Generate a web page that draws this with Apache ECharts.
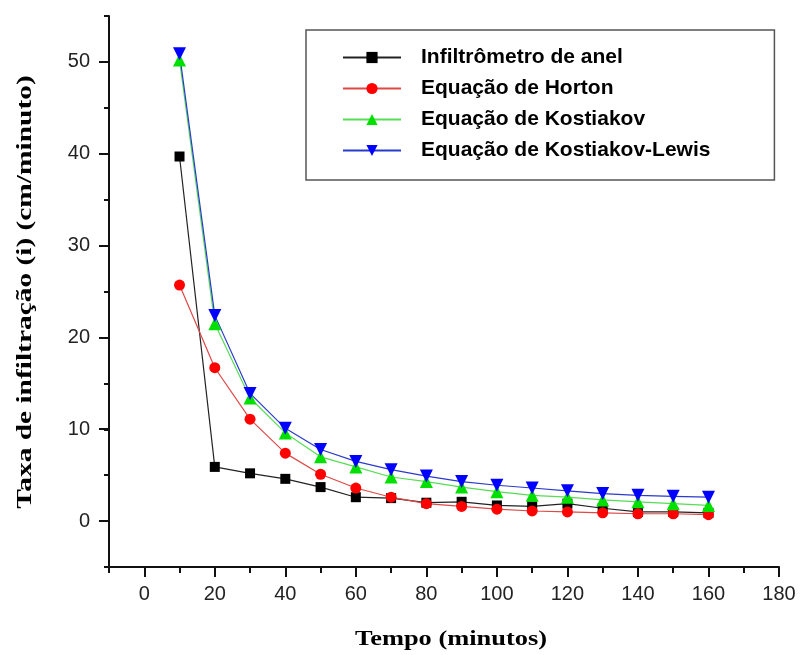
<!DOCTYPE html>
<html>
<head>
<meta charset="utf-8">
<script src="https://cdn.jsdelivr.net/npm/echarts@6/dist/echarts.min.js"></script>
<style>
  html, body { margin: 0; padding: 0; background: #fff; }
  #chart { width: 800px; height: 655px; }
</style>
</head>
<body>
<div id="chart"></div>
<script>
// Infiltration rate over time: measured (ring infiltrometer) and three fitted models
const tempo = [10, 20, 30, 40, 50, 60, 70, 80, 90, 100, 110, 120, 130, 140, 150, 160];

const infiltrometro = [39.7, 5.9, 5.2, 4.6, 3.7, 2.6, 2.5, 2.0, 2.1, 1.7, 1.6, 1.9, 1.4, 1.0, 1.0, 0.9];
const horton        = [25.7, 16.7, 11.1, 7.4, 5.1, 3.6, 2.6, 1.9, 1.6, 1.3, 1.1, 1.0, 0.9, 0.8, 0.8, 0.7];
const kostiakov     = [50.2, 21.5, 13.4, 9.6, 7.0, 5.9, 4.8, 4.3, 3.7, 3.2, 2.8, 2.6, 2.3, 2.1, 1.9, 1.7];
const kostiakovLewis = [50.9, 22.4, 13.9, 10.1, 7.8, 6.5, 5.6, 4.9, 4.3, 3.9, 3.6, 3.3, 3.0, 2.8, 2.7, 2.6];

const seriesNames = [
  'Infiltrômetro de anel',
  'Equação de Horton',
  'Equação de Kostiakov',
  'Equação de Kostiakov-Lewis'
];

// axis extents and tick steps
const xRange = [-10, 180];
const yRange = [-5, 55];
const xMajor = { min: 0, max: 180, step: 20 };
const yMajor = { min: 0, max: 50, step: 10 };
const xMinorStep = 10;
const yMinorStep = 5;

const xName = 'Tempo (minutos)';
const yName = 'Taxa de infiltração (i) (cm/minuto)';

const pairs = ys => tempo.map((t, i) => [t, ys[i]]);

const sansFont = '"Liberation Sans", Arial, sans-serif';
const serifFont = '"Liberation Serif", "Times New Roman", serif';

const W = 800, H = 655;
const plot = { left: 109, right: 21, top: 16, bottom: 88 };
const plotW = W - plot.left - plot.right;
const plotH = H - plot.top - plot.bottom;
const pxPerX = plotW / (xRange[1] - xRange[0]);
const pxPerY = plotH / (yRange[1] - yRange[0]);

// the labelled (major) ticks start at 0, so they live on helper grids aligned with the main one
const gridXMajor = {
  left: plot.left + (xMajor.min - xRange[0]) * pxPerX,
  right: plot.right + (xRange[1] - xMajor.max) * pxPerX,
  top: plot.top,
  bottom: plot.bottom
};
const gridYMajor = {
  left: plot.left,
  right: plot.right,
  top: plot.top + (yRange[1] - yMajor.max) * pxPerY,
  bottom: plot.bottom + (yMajor.min - yRange[0]) * pxPerY
};

const chart = echarts.init(document.getElementById('chart'), null, { renderer: 'canvas' });

function lineSeries(name, data, color, lineColor, symbol, size, rotate) {
  return {
    name: name,
    type: 'line',
    xAxisIndex: 0,
    yAxisIndex: 0,
    data: pairs(data),
    symbol: symbol,
    symbolSize: size,
    symbolRotate: rotate || 0,
    showAllSymbol: true,
    itemStyle: { color: color },
    lineStyle: { color: lineColor, width: 1.2 },
    emphasis: { disabled: true },
    animation: false
  };
}

// axis titles: tall serif, stretched along the reading direction
function titleText(text, x, y, rotation, stretch, size) {
  return {
    type: 'text',
    x: x,
    y: y,
    rotation: rotation,
    scaleX: stretch,
    silent: true,
    style: {
      text: text,
      fontFamily: serifFont,
      fontWeight: 'bold',
      fontSize: size,
      fill: '#000',
      textAlign: 'center',
      textVerticalAlign: 'middle',
      align: 'center',
      verticalAlign: 'middle'
    }
  };
}

const tickStyle = { color: '#111', width: 2 };
const hidden = { show: false };

chart.setOption({
  animation: false,
  backgroundColor: '#ffffff',
  grid: [
    { left: plot.left, right: plot.right, top: plot.top, bottom: plot.bottom },
    gridXMajor,
    gridYMajor
  ],
  legend: {
    orient: 'vertical',
    left: 306,
    top: 30,
    padding: [17, 64, 19, 36],
    itemGap: 10,
    itemWidth: 58,
    itemHeight: 14,
    borderColor: '#555',
    borderWidth: 1.5,
    backgroundColor: '#fff',
    textStyle: { fontFamily: sansFont, fontWeight: 'bold', fontSize: 21, color: '#000', padding: [0, 0, 0, 15] },
    data: seriesNames
  },
  graphic: [
    titleText(xName, 451, 640, 0, 1.32, 20),
    titleText(yName, 26, 292, Math.PI / 2, 1.40, 21)
  ],
  xAxis: [
    {
      gridIndex: 0,
      type: 'value',
      min: xRange[0],
      max: xRange[1],
      interval: xMinorStep,
      position: 'bottom',
      axisLine: { show: true, onZero: false, lineStyle: { color: '#111', width: 2 } },
      axisTick: { show: true, length: 6, lineStyle: tickStyle },
      axisLabel: hidden,
      splitLine: hidden
    },
    {
      gridIndex: 1,
      type: 'value',
      min: xMajor.min,
      max: xMajor.max,
      interval: xMajor.step,
      position: 'bottom',
      axisLine: { show: false, onZero: false },
      axisTick: { show: true, length: 10, lineStyle: tickStyle },
      axisLabel: { margin: 17, fontFamily: sansFont, fontSize: 20, color: '#222' },
      splitLine: hidden
    },
    {
      gridIndex: 2,
      type: 'value',
      min: xRange[0],
      max: xRange[1],
      show: false
    }
  ],
  yAxis: [
    {
      gridIndex: 0,
      type: 'value',
      min: yRange[0],
      max: yRange[1],
      interval: yMinorStep,
      position: 'left',
      axisLine: { show: true, onZero: false, lineStyle: { color: '#111', width: 2 } },
      axisTick: { show: true, length: 5, lineStyle: tickStyle },
      axisLabel: hidden,
      splitLine: hidden
    },
    {
      gridIndex: 1,
      type: 'value',
      min: yRange[0],
      max: yRange[1],
      show: false
    },
    {
      gridIndex: 2,
      type: 'value',
      min: yMajor.min,
      max: yMajor.max,
      interval: yMajor.step,
      position: 'left',
      axisLine: { show: false, onZero: false },
      axisTick: { show: true, length: 10, lineStyle: tickStyle },
      axisLabel: { margin: 19, fontFamily: sansFont, fontSize: 20, color: '#222' },
      splitLine: hidden
    }
  ],
  series: [
    lineSeries(seriesNames[0], infiltrometro, '#000000', '#222222', 'rect', 10),
    lineSeries(seriesNames[1], horton, '#ff0000', '#e04848', 'circle', 11),
    lineSeries(seriesNames[2], kostiakov, '#00e000', '#55dd55', 'triangle', 13),
    lineSeries(seriesNames[3], kostiakovLewis, '#0000ff', '#2a3acc', 'triangle', 13, 180)
  ]
});
</script>
</body>
</html>
